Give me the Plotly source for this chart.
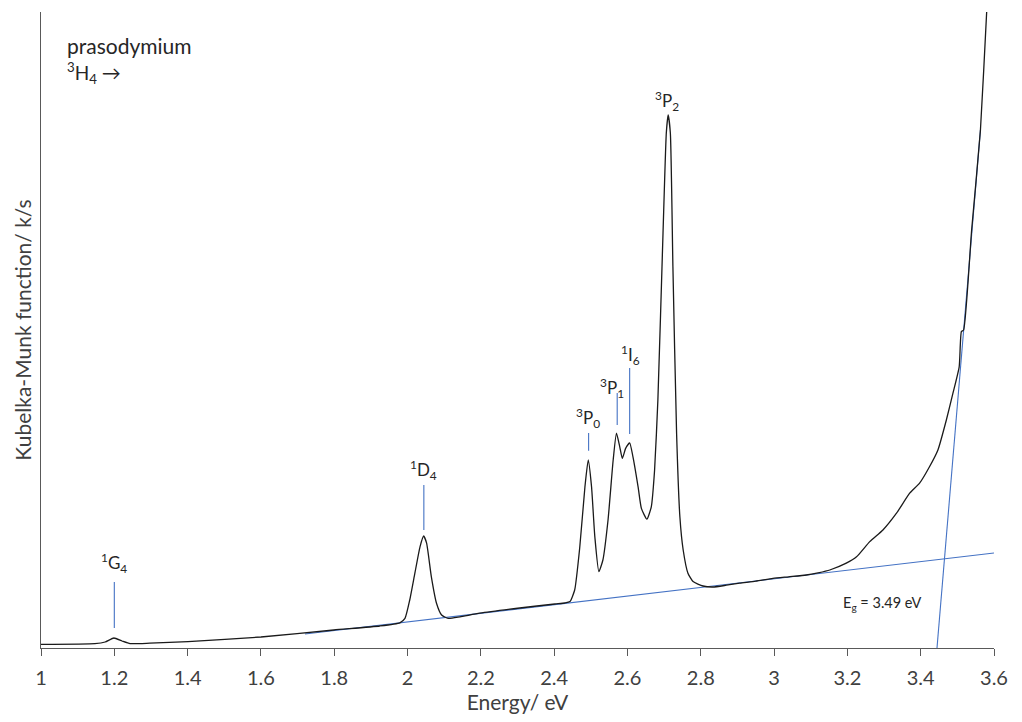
import plotly.graph_objects as go

# Black spectrum (energy in eV, Kubelka-Munk k/s in arbitrary units)
energy = [1.000, 1.147, 1.175, 1.199, 1.221, 1.243, 1.297, 1.401, 1.600, 1.799,
          1.924, 1.979, 1.993, 2.006, 2.020, 2.034, 2.044, 2.052, 2.065, 2.079,
          2.093, 2.111, 2.143, 2.197, 2.306, 2.402, 2.429, 2.443, 2.456, 2.470,
          2.484, 2.493, 2.502, 2.511, 2.522, 2.533, 2.547, 2.561, 2.570, 2.579,
          2.586, 2.595, 2.606, 2.615, 2.629, 2.638, 2.653, 2.665, 2.674, 2.683,
          2.697, 2.706, 2.711, 2.717, 2.724, 2.734, 2.743, 2.752, 2.765, 2.779,
          2.806, 2.833, 2.870, 2.906, 2.950, 2.997, 3.040, 3.088, 3.120, 3.152,
          3.197, 3.225, 3.261, 3.297, 3.334, 3.370, 3.397, 3.424, 3.447, 3.470,
          3.488, 3.505, 3.511, 3.517, 3.539, 3.563, 3.580, 3.590]
km = [0.009, 0.011, 0.015, 0.025, 0.0175, 0.011, 0.012, 0.016, 0.0275, 0.045,
      0.055, 0.063, 0.074, 0.120, 0.187, 0.253, 0.280, 0.262, 0.178, 0.112,
      0.0825, 0.074, 0.078, 0.087, 0.100, 0.110, 0.1125, 0.116, 0.145, 0.253,
      0.403, 0.470, 0.403, 0.278, 0.191, 0.220, 0.320, 0.470, 0.537, 0.503,
      0.474, 0.499, 0.513, 0.478, 0.403, 0.349, 0.322, 0.353, 0.445, 0.620,
      1.0375, 1.2875, 1.3325, 1.2875, 0.953, 0.5375, 0.328, 0.245, 0.187, 0.166,
      0.155, 0.1525, 0.157, 0.162, 0.167, 0.174, 0.178, 0.1825, 0.188, 0.195,
      0.212, 0.228, 0.266, 0.295, 0.337, 0.387, 0.412, 0.453, 0.495, 0.570,
      0.637, 0.703, 0.791, 0.795, 1.045, 1.295, 1.590, 1.75]

# Blue fit lines (baseline and absorption-edge tangent)
baseline_x = [1.72, 3.60]
baseline_y = [0.035, 0.2375]
edge_x = [3.4445, 3.563]
edge_y = [0.0, 1.295]

# Transition labels
trans_labels = ["<sup>1</sup>G<sub>4</sub>", "<sup>1</sup>D<sub>4</sub>",
                "<sup>3</sup>P<sub>0</sub>", "<sup>3</sup>P<sub>1</sub>",
                "<sup>1</sup>I<sub>6</sub>", "<sup>3</sup>P<sub>2</sub>"]
label_x = [1.200, 2.044, 2.492, 2.557, 2.609, 2.707]
label_y = [0.2125, 0.445, 0.575, 0.650, 0.7325, 1.3675]
marker_x = [1.200, 2.0445, 2.494, 2.572, 2.606]
marker_top = [0.165, 0.4075, 0.5375, 0.6375, 0.700]
marker_bottom = [0.050, 0.295, 0.493, 0.5575, 0.535]

tick_vals = [1.0, 1.2, 1.4, 1.6, 1.8, 2.0, 2.2, 2.4, 2.6, 2.8, 3.0, 3.2, 3.4, 3.6]
tick_text = ["1", "1.2", "1.4", "1.6", "1.8", "2", "2.2", "2.4", "2.6", "2.8",
             "3", "3.2", "3.4", "3.6"]

BLUE = "#4472C4"
FONT = "Lato"
TXT = "#262626"

fig = go.Figure()

fig.add_trace(go.Scatter(x=baseline_x, y=baseline_y, mode="lines",
                         line=dict(color=BLUE, width=1.1), hoverinfo="skip"))
fig.add_trace(go.Scatter(x=edge_x, y=edge_y, mode="lines",
                         line=dict(color=BLUE, width=1.1), hoverinfo="skip"))

for mx, mt, mb in zip(marker_x, marker_top, marker_bottom):
    fig.add_trace(go.Scatter(x=[mx, mx], y=[mb, mt], mode="lines",
                             line=dict(color=BLUE, width=1.1), hoverinfo="skip"))

fig.add_trace(go.Scatter(x=energy, y=km, mode="lines",
                         line=dict(color="#1a1a1a", width=1.3, shape="spline",
                                   smoothing=0.5)))

for t, lx, ly in zip(trans_labels, label_x, label_y):
    fig.add_annotation(x=lx, y=ly, text=t, showarrow=False,
                       font=dict(family=FONT, size=17, color=TXT),
                       xanchor="center", yanchor="middle")

fig.add_annotation(x=1.0654, y=1.5075, text="prasodymium", showarrow=False,
                   font=dict(family=FONT, size=21, color=TXT),
                   xanchor="left", yanchor="middle")
fig.add_annotation(x=1.0654, y=1.4375, text="<sup>3</sup>H<sub>4</sub> \u2192",
                   showarrow=False,
                   font=dict(family=FONT, size=19, color=TXT),
                   xanchor="left", yanchor="middle")
fig.add_annotation(x=3.2935, y=0.1125, text="E<sub>g</sub> = 3.49 eV",
                   showarrow=False,
                   font=dict(family=FONT, size=14.5, color=TXT),
                   xanchor="center", yanchor="middle")

fig.update_layout(
    width=1022, height=722,
    margin=dict(l=41, r=28, t=12, b=74),
    paper_bgcolor="white", plot_bgcolor="white",
    showlegend=False,
    font=dict(family=FONT, color="#404040"),
    xaxis=dict(range=[1.0, 3.6], tickvals=tick_vals, ticktext=tick_text,
               showline=True, linecolor="#595959", linewidth=1.3,
               ticks="outside", ticklen=7, tickcolor="#595959", tickwidth=1.3,
               ticklabelstandoff=5,
               showgrid=False, zeroline=False,
               tickfont=dict(family=FONT, size=20, color="#404040"),
               title=dict(text="Energy/ eV", standoff=6,
                          font=dict(family=FONT, size=21, color="#404040"))),
    yaxis=dict(range=[0, 1.59], showline=True, linecolor="#595959", linewidth=1.3,
               showticklabels=False, ticks="", showgrid=False, zeroline=False,
               title=dict(text="Kubelka-Munk function/ k/s", standoff=2,
                          font=dict(family=FONT, size=21, color="#404040"))),
)

fig.write_html("out.html")
